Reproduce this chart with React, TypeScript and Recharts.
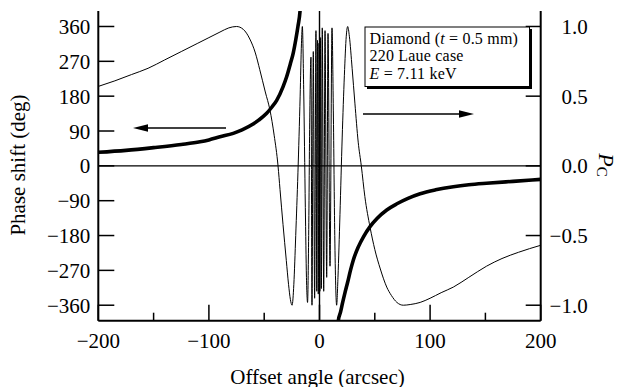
import React from 'react';
import { LineChart, Line, XAxis, YAxis, ReferenceLine } from 'recharts';

const SERIF = '"Liberation Serif", "Times New Roman", serif';

// axis ticks
const angleTicks = [-200, -150, -100, -50, 0, 50, 100, 150, 200];
const phaseTicks = [-360, -270, -180, -90, 0, 90, 180, 270, 360];
const pcTicks = [-1, -0.5, 0, 0.5, 1];

// phase shift (deg), left branch
const phaseLeftX = [-200, -175, -150, -125, -108, -100, -90, -78, -70, -60, -55, -48, -43, -38.7, -33, -29.7, -26.5, -23.7, -21.5, -19.5, -17.6, -17];
const phaseLeftDeg = [35, 40, 47, 55, 62, 67, 75, 84, 93, 108, 118, 135, 152, 169, 204, 230, 262, 292, 325, 360, 400, 425];

// phase shift (deg), right branch
const phaseRightX = [16.6, 17, 19, 21, 23, 25.5, 28, 30.6, 35, 40, 45.7, 52, 60.8, 70, 80, 91, 105, 121, 135, 151, 175, 200];
const phaseRightDeg = [-425, -400, -378, -352, -328, -300, -270, -243, -210, -182, -157, -136, -114, -98, -84, -72, -62, -54, -49, -45, -40, -35];

// circular polarization P_C
const pcX = [
  -200, -185, -170, -155, -140, -125, -110, -100, -90, -82, -75, -69, -63, -58, -54, -49, -44.8, -41, -37.5, -35.7,
  -33, -30, -28, -26.3, -24.8, -23.2, -21.5, -19.5, -17.5, -16.3, -15.5, -14.3, -12.8, -11.8, -10.8, -9.8, -8.8, -7.7,
  -6.8, -5.6, -4.4, -3.2, -2.5, -1.8, -1.1, -0.4, 0.3, 1.0, 1.7, 2.5, 3.8, 5.0, 6.5, 7.7, 9.5, 11.3, 12.5, 13.8, 15.5,
  16.7, 18.5, 20.5, 22.5, 24.2, 25.5, 27, 29.5, 32, 35, 37.8, 41, 45.7, 50, 55, 60.8, 65, 70, 75.8, 82, 91, 100, 110,
  121, 135, 151, 165, 180, 200,
];
const pcValue = [
  0.57, 0.61, 0.655, 0.7, 0.76, 0.82, 0.88, 0.92, 0.96, 0.99, 1.0, 0.98, 0.91, 0.81, 0.69, 0.53, 0.4, 0.22, 0.0, -0.17,
  -0.42, -0.68, -0.85, -0.96, -1.0, -0.85, -0.5, -0.05, 0.5, 0.88, 1.0, 0.55, -0.3, -0.8, -0.98, -0.5, 0.35, 0.78,
  -1.0, 0.82, -0.95, 0.97, -0.9, 0.9, -0.92, 0.88, -0.9, 0.92, -0.88, 0.99, -0.9, 0.97, -0.8, 0.95, -0.72, 0.99, 0.4, -0.5, -1.0,
  -0.8, -0.35, 0.2, 0.65, 0.93, 1.0, 0.93, 0.7, 0.45, 0.17, 0.0, -0.22, -0.44, -0.6, -0.74, -0.87, -0.93, -0.98, -1.0, -0.995, -0.98, -0.95, -0.91,
  -0.87, -0.8, -0.72, -0.665, -0.62, -0.57,
];

const phaseLeft = phaseLeftX.map((x, i) => ({ x, phase: phaseLeftDeg[i] }));
const phaseRight = phaseRightX.map((x, i) => ({ x, phase: phaseRightDeg[i] }));
const pcData = pcX.map((x, i) => ({ x, pc: pcValue[i] }));

const fmt = (v: number, digits = 0) => (v < 0 ? '\u2212' : '') + Math.abs(v).toFixed(digits);

// ticks point into the plot, labels sit outside
const BottomTick = ({ x, y, payload }: any) => {
  const major = payload.value % 100 === 0;
  return (
    <g>
      <line x1={x} x2={x} y1={y} y2={y - (major ? 16 : 8)} stroke="#000" strokeWidth={1.5} />
      {major && (
        <text x={x} y={y + 27} textAnchor="middle" fontFamily={SERIF} fontSize={21} fill="#000">
          {fmt(payload.value)}
        </text>
      )}
    </g>
  );
};

const TopTick = ({ x, y, payload }: any) => {
  const major = payload.value % 100 === 0;
  return <line x1={x} x2={x} y1={y} y2={y + (major ? 15 : 7)} stroke="#000" strokeWidth={1.5} />;
};

const LeftTick = ({ x, y, payload }: any) => (
  <g>
    <line x1={x} x2={x + 16} y1={y} y2={y} stroke="#000" strokeWidth={1.5} />
    <text x={x - 8} y={y} dy="0.36em" textAnchor="end" fontFamily={SERIF} fontSize={21} fill="#000">
      {fmt(payload.value)}
    </text>
  </g>
);

const RightTick = ({ x, y, payload }: any) => (
  <g>
    <line x1={x} x2={x - 15} y1={y} y2={y} stroke="#000" strokeWidth={1.5} />
    <text x={x + 47} y={y} dy="0.36em" textAnchor="end" fontFamily={SERIF} fontSize={21} fill="#000">
      {fmt(payload.value, 1)}
    </text>
  </g>
);

const App: React.FC = () => {
  return (
    <div style={{ position: 'relative', width: 617, height: 379 }}>
      <LineChart width={617} height={379} margin={{ top: 3, right: 24.3, bottom: 26.3, left: 30.3 }}>
        <XAxis
          xAxisId="b"
          dataKey="x"
          type="number"
          domain={[-200, 200]}
          ticks={angleTicks}
          interval={0}
          allowDataOverflow
          height={40}
          tick={<BottomTick />}
          tickLine={false}
          tickSize={0}
          tickMargin={0}
          axisLine={{ stroke: '#000', strokeWidth: 2 }}
        />
        <XAxis
          xAxisId="t"
          orientation="top"
          type="number"
          domain={[-200, 200]}
          ticks={angleTicks}
          interval={0}
          allowDataOverflow
          height={0}
          tick={<TopTick />}
          tickLine={false}
          tickSize={0}
          tickMargin={0}
          axisLine={{ stroke: '#000', strokeWidth: 2 }}
        />
        <YAxis
          yAxisId="deg"
          type="number"
          domain={[-400, 400]}
          ticks={phaseTicks}
          interval={0}
          allowDataOverflow
          width={60}
          tick={<LeftTick />}
          tickLine={false}
          tickSize={0}
          tickMargin={0}
          axisLine={{ stroke: '#000', strokeWidth: 2 }}
        />
        <YAxis
          yAxisId="pc"
          orientation="right"
          type="number"
          domain={[-400 / 360, 400 / 360]}
          ticks={pcTicks}
          interval={0}
          allowDataOverflow
          width={60}
          tick={<RightTick />}
          tickLine={false}
          tickSize={0}
          tickMargin={0}
          axisLine={{ stroke: '#000', strokeWidth: 2 }}
        />
        <ReferenceLine xAxisId="b" yAxisId="deg" y={0} stroke="#000" strokeWidth={1.4} />
        <ReferenceLine xAxisId="b" yAxisId="deg" x={0} stroke="#000" strokeWidth={1.4} />
        <Line
          xAxisId="b"
          yAxisId="pc"
          data={pcData}
          dataKey="pc"
          type="monotone"
          stroke="#000"
          strokeWidth={1}
          dot={false}
          isAnimationActive={false}
        />
        <Line
          xAxisId="b"
          yAxisId="deg"
          data={phaseLeft}
          dataKey="phase"
          type="monotone"
          stroke="#000"
          strokeWidth={3.6}
          dot={false}
          isAnimationActive={false}
        />
        <Line
          xAxisId="b"
          yAxisId="deg"
          data={phaseRight}
          dataKey="phase"
          type="monotone"
          stroke="#000"
          strokeWidth={3.6}
          dot={false}
          isAnimationActive={false}
        />
      </LineChart>

      {/* labels, arrows and the sample box */}
      <svg
        width={617}
        height={379}
        style={{ position: 'absolute', left: 0, top: 0, overflow: 'visible', pointerEvents: 'none' }}
        fontFamily={SERIF}
      >
        <text x={10} y={157} transform="rotate(-90 10 157)" textAnchor="middle" dominantBaseline="central" fontSize={21}>
          Phase shift (deg)
        </text>
        <text x={309.5} y={375.5} textAnchor="middle" fontSize={21}>
          Offset angle (arcsec)
        </text>
        <text x={599} y={157} transform="rotate(90 599 157)" textAnchor="middle" dominantBaseline="central" fontSize={22}>
          <tspan fontStyle="italic">P</tspan>
          <tspan fontSize={15} dy={5}>C</tspan>
        </text>

        <line x1={218} y1={120} x2={139} y2={120} stroke="#000" strokeWidth={1.6} />
        <polygon points="125,120 140,116.3 140,123.7" fill="#000" />
        <line x1={355} y1={106} x2={452} y2={106} stroke="#000" strokeWidth={1.6} />
        <polygon points="466,106 451,102.3 451,109.7" fill="#000" />

        <rect x={359} y={21} width={165} height={60} fill="#000" />
        <rect x={357} y={19} width={164.5} height={59.5} fill="#fff" stroke="#000" strokeWidth={1} />
        <text x={361.5} y={35.5} fontSize={16} letterSpacing={0.2}>
          Diamond (<tspan fontStyle="italic">t</tspan> = 0.5 mm)
        </text>
        <text x={361.5} y={53} fontSize={16} letterSpacing={0.2}>
          220 Laue case
        </text>
        <text x={361.5} y={70.5} fontSize={16} letterSpacing={0.2}>
          <tspan fontStyle="italic">E</tspan> = 7.11 keV
        </text>
      </svg>
    </div>
  );
};

export default App;
